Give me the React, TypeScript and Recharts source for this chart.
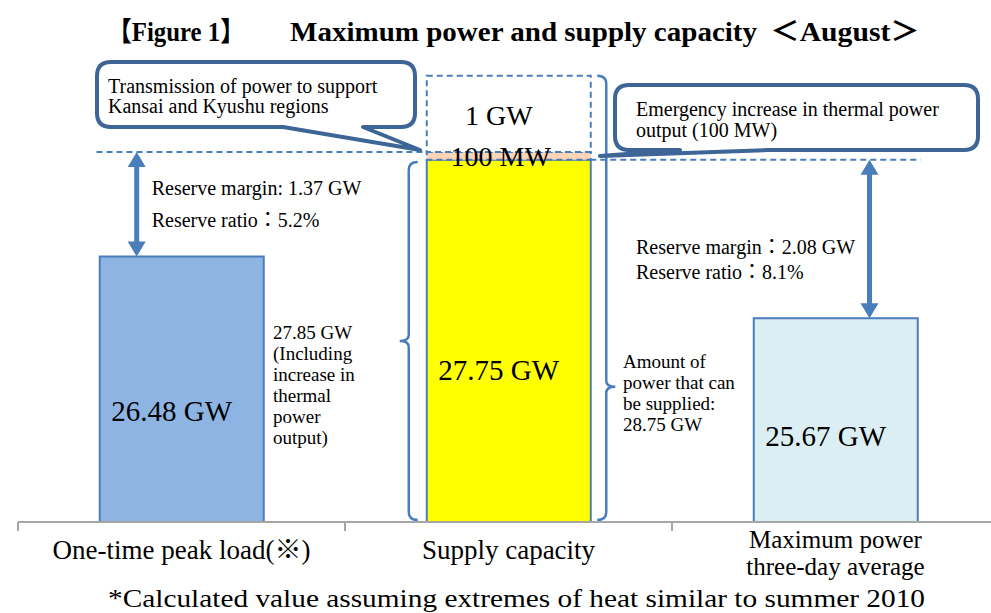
import React from 'react';
import {BarChart, Bar, XAxis, YAxis, Cell, LabelList, ReferenceLine, ReferenceArea} from 'recharts';

// values in GW
const categories = ['One-time peak load(※)', 'Supply capacity', 'Maximum power three-day average'];
const tickLines = [['One-time peak load(※)'], ['Supply capacity'], ['Maximum power', 'three-day average']];
const peakGW = [26.48, 0, 25.67];
const supplyGW = [0, 27.75, 0];
const emergencyGW = [0, 0.1, 0];
const transmissionGW = [0, 1, 0];
const peakFills = ['#8db4e2', '#ffffff', '#dbeef4'];
const reserveText = [
    ['Reserve margin: 1.37 GW', 'Reserve ratio：5.2%'],
    ['Reserve margin：2.08 GW', 'Reserve ratio：8.1%'],
];
const leftBraceText = ['27.85 GW', '(Including', 'increase in', 'thermal', 'power', 'output)'];
const rightBraceText = ['Amount of', 'power that can', 'be supplied:', '28.75 GW'];

const SERIF = "'Liberation Serif', 'Times New Roman', 'Noto Sans CJK JP', serif";
const BLUE = '#4a7ebb';
const W = 999;
const H = 613;
const MARGIN = {top: 72, right: 0, bottom: 31, left: 18};
const X_HEIGHT = 60;
const PLOT_BOTTOM = H - MARGIN.bottom - X_HEIGHT;
const BAND = (W - MARGIN.left - MARGIN.right) / 3;

const data = categories.map((name, i) => ({
    name,
    peak: peakGW[i],
    supply: supplyGW[i],
    emergency: emergencyGW[i],
    transmission: transmissionGW[i],
}));

const supplyTop = supplyGW[1] + emergencyGW[1];
const fullTop = supplyTop + transmissionGW[1];

const segValue = (v: any) => (Array.isArray(v) ? Number(v[1]) - Number(v[0]) : Number(v));

const AxisTick = (p: any) => {
    const idx = categories.indexOf(p.payload.value);
    const lines = tickLines[idx] || [p.payload.value];
    const y0 = Number(p.y);
    return (
        <g>
            <line x1={p.x - BAND / 2} x2={p.x - BAND / 2} y1={y0} y2={y0 + 9} stroke="#a6a6a6" strokeWidth={2}/>
            {lines.map((t, k) => (
                <text key={k} x={p.x} y={lines.length === 1 ? y0 + 28 : y0 + 17 + k * 27} textAnchor="middle"
                      dominantBaseline="central" fontSize={lines.length === 1 ? 27 : 25} fontFamily={SERIF} fill="#000">{t}</text>
            ))}
        </g>
    );
};

const valueLabel = (p: any) => {
    const v = segValue(p.value);
    if (!v) return null;
    const top = Number(p.y);
    const h = PLOT_BOTTOM - top;
    return (
        <text x={Number(p.x) + Number(p.width) / 2 - 10} y={top + h * 0.58} textAnchor="middle"
              dominantBaseline="central" fontSize={29} fontFamily={SERIF} fill="#000">{v.toFixed(2)} GW</text>
    );
};

const topLabels = (p: any) => {
    const v = segValue(p.value);
    if (!v) return null;
    const mw = Math.round(emergencyGW[transmissionGW.indexOf(v)] * 1000);
    const cx = Number(p.x) + Number(p.width) / 2;
    const top = Number(p.y);
    const bottom = top + Number(p.height);
    return (
        <g>
            <text x={cx - 10} y={(top + bottom) / 2 + 2} textAnchor="middle" dominantBaseline="central"
                  fontSize={28} fontFamily={SERIF} fill="#000">{v} GW</text>
            <text x={cx - 8} y={bottom + 4} textAnchor="middle" dominantBaseline="central"
                  fontSize={28} fontFamily={SERIF} fill="#000">{mw} MW</text>
        </g>
    );
};

const DoubleArrow = ({x, top, bottom}: {x: number; top: number; bottom: number}) => (
    <g fill={BLUE}>
        <line x1={x} x2={x} y1={top + 10} y2={bottom - 10} stroke={BLUE} strokeWidth={5}/>
        <polygon points={`${x},${top} ${x - 9},${top + 15} ${x + 9},${top + 15}`}/>
        <polygon points={`${x},${bottom} ${x - 9},${bottom - 15} ${x + 9},${bottom - 15}`}/>
    </g>
);

const leftReserve = (p: any) => {
    const ax = p.x + BAND * 0.363;
    const top = p.y;
    const h = p.height;
    return (
        <g>
            <DoubleArrow x={ax} top={top} bottom={top + h}/>
            <text x={ax + 15} y={top + h * 0.34} dominantBaseline="central" fontSize={20} fontFamily={SERIF}>{reserveText[0][0]}</text>
            <text x={ax + 15} y={top + h * 0.34 + 32} dominantBaseline="central" fontSize={20} fontFamily={SERIF}>{reserveText[0][1]}</text>
        </g>
    );
};

const rightReserve = (p: any) => {
    const ax = p.x + BAND * 2.604;
    const top = p.y;
    const h = p.height;
    return (
        <g>
            <DoubleArrow x={ax} top={top} bottom={top + h}/>
            <text x={p.x + BAND * 1.89} y={top + h * 0.55} dominantBaseline="central" fontSize={20} fontFamily={SERIF}>{reserveText[1][0]}</text>
            <text x={p.x + BAND * 1.89} y={top + h * 0.55 + 25} dominantBaseline="central" fontSize={20} fontFamily={SERIF}>{reserveText[1][1]}</text>
        </g>
    );
};

const leftBrace = (p: any) => {
    const x = p.x + BAND * 1.25 - 18;
    const top = p.y + 10;
    const bottom = p.y + p.height - 2;
    const mid = (top + bottom) / 2;
    return (
        <path d={`M${x + 9},${top} Q${x},${top} ${x},${top + 8} V${mid - 6} Q${x},${mid} ${x - 9},${mid} Q${x},${mid} ${x},${mid + 6} V${bottom - 8} Q${x},${bottom} ${x + 9},${bottom}`}
              fill="none" stroke={BLUE} strokeWidth={2.5}/>
    );
};

const rightBrace = (p: any) => {
    const x = p.x + BAND * 1.75 + 16;
    const top = p.y;
    const bottom = p.y + p.height - 2;
    const mid = bottom - (bottom - top) * 0.3;
    return (
        <path d={`M${x - 9},${top} Q${x},${top} ${x},${top + 8} V${mid - 6} Q${x},${mid} ${x + 9},${mid} Q${x},${mid} ${x},${mid + 6} V${bottom - 8} Q${x},${bottom} ${x - 9},${bottom}`}
              fill="none" stroke={BLUE} strokeWidth={2.5}/>
    );
};

const calloutPath = (x0: number, y0: number, x1: number, y1: number, a: number, b: number, tx: number, ty: number) => {
    const r = 14;
    return `M${x0 + r},${y0} H${x1 - r} Q${x1},${y0} ${x1},${y0 + r} V${y1 - r} Q${x1},${y1} ${x1 - r},${y1} H${b} L${tx},${ty} L${a},${y1} H${x0 + r} Q${x0},${y1} ${x0},${y1 - r} V${y0 + r} Q${x0},${y0} ${x0 + r},${y0} Z`;
};

const Overlay = () => (
    <svg width={991} height={613} style={{position: 'absolute', left: 0, top: 0, pointerEvents: 'none'}}>
        <g fontFamily={SERIF} fontWeight="bold" fontSize={27} fill="#000">
            <text x={107} y={32} dominantBaseline="central" textLength={138} lengthAdjust="spacingAndGlyphs">【Figure 1】</text>
            <text x={290} y={32} dominantBaseline="central" textLength={467} lengthAdjust="spacingAndGlyphs">Maximum power and supply capacity</text>
            <text x={770} y={32} dominantBaseline="central" textLength={150} lengthAdjust="spacingAndGlyphs">＜August＞</text>
        </g>
        <path d={calloutPath(97, 62, 415, 127, 283, 363, 420, 150)} fill="#fff" stroke="#3d6595" strokeWidth={4} strokeLinejoin="round"/>
        <text x={108} y={86} dominantBaseline="central" fontSize={20} fontFamily={SERIF}>Transmission of power to support</text>
        <text x={108} y={106} dominantBaseline="central" fontSize={20} fontFamily={SERIF}>Kansai and Kyushu regions</text>
        <path d={calloutPath(615, 85, 978, 150, 680, 768, 600, 156)} fill="#fff" stroke="#3d6595" strokeWidth={4} strokeLinejoin="round"/>
        <text x={636} y={109} dominantBaseline="central" fontSize={20} fontFamily={SERIF}>Emergency increase in thermal power</text>
        <text x={636} y={130} dominantBaseline="central" fontSize={20} fontFamily={SERIF}>output (100 MW)</text>
        {leftBraceText.map((t, i) => (
            <text key={t} x={273} y={332 + i * 21} dominantBaseline="central" fontSize={19} fontFamily={SERIF}>{t}</text>
        ))}
        {rightBraceText.map((t, i) => (
            <text key={t} x={623} y={361 + i * 21} dominantBaseline="central" fontSize={19} fontFamily={SERIF}>{t}</text>
        ))}
        <text x={108} y={598} dominantBaseline="central" fontSize={26} fontFamily={SERIF} textLength={817}
              lengthAdjust="spacingAndGlyphs">*Calculated value assuming extremes of heat similar to summer 2010</text>
    </svg>
);

export default function App() {
    return (
        <div style={{position: 'absolute', left: 0, top: 0, width: 991, height: 613, overflow: 'hidden', background: '#fff'}}>
            <BarChart width={W} height={H} data={data} margin={MARGIN} barCategoryGap="25%">
                <XAxis dataKey="name" height={X_HEIGHT} interval={0} tickLine={false} tickSize={0} tickMargin={0}
                       axisLine={{stroke: '#a6a6a6', strokeWidth: 2}} tick={AxisTick}/>
                <YAxis hide type="number" domain={[23, 28.9]} allowDataOverflow/>
                <ReferenceArea y1={23} y2={supplyTop} fill="none" stroke="none" shape={leftBrace}/>
                <ReferenceArea y1={23} y2={fullTop} fill="none" stroke="none" shape={rightBrace}/>
                <ReferenceArea y1={peakGW[0]} y2={supplyTop} fill="none" stroke="none" shape={leftReserve}/>
                <ReferenceArea y1={peakGW[2]} y2={supplyGW[1]} fill="none" stroke="none" shape={rightReserve}/>
                <ReferenceLine y={supplyTop} shape={(p: any) => (
                    <line x1={p.x1 + BAND * 0.24} x2={p.x1 + BAND * 1.25} y1={p.y1} y2={p.y1} stroke={BLUE} strokeWidth={2} strokeDasharray="6 4"/>
                )}/>
                <ReferenceLine y={supplyGW[1]} shape={(p: any) => (
                    <line x1={p.x1 + BAND * 1.75} x2={p.x1 + BAND * 2.76} y1={p.y1} y2={p.y1} stroke={BLUE} strokeWidth={2} strokeDasharray="6 4"/>
                )}/>
                <Bar dataKey="peak" stackId="s" stroke={BLUE} strokeWidth={2} isAnimationActive={false}>
                    {data.map((d, i) => <Cell key={d.name} fill={peakFills[i]}/>)}
                    <LabelList dataKey="peak" content={valueLabel}/>
                </Bar>
                <Bar dataKey="supply" stackId="s" fill="#ffff00" stroke={BLUE} strokeWidth={2} isAnimationActive={false}>
                    <LabelList dataKey="supply" content={valueLabel}/>
                </Bar>
                <Bar dataKey="emergency" stackId="s" fill="#fbd5b5" stroke={BLUE} strokeWidth={2} strokeDasharray="6 4" isAnimationActive={false}/>
                <Bar dataKey="transmission" stackId="s" fill="#ffffff" stroke={BLUE} strokeWidth={2} strokeDasharray="6 4" isAnimationActive={false}>
                    <LabelList dataKey="transmission" content={topLabels}/>
                </Bar>
            </BarChart>
            <Overlay/>
        </div>
    );
}
